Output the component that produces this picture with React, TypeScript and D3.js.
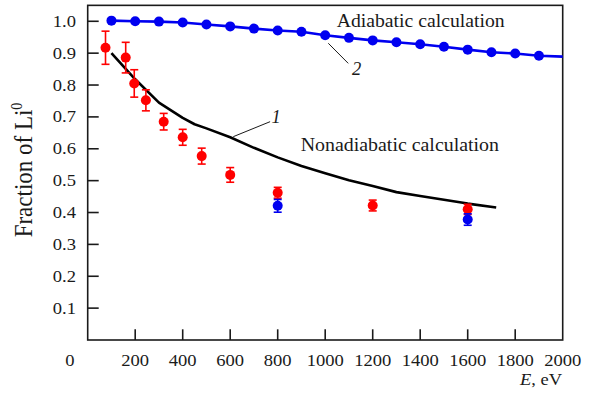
import React from "react";
import * as d3 from "d3";

// Adiabatic calculation (curve 2)
const adiabaticE = [100, 200, 300, 400, 500, 600, 700, 800, 900, 1000, 1100, 1200, 1300, 1400, 1500, 1600, 1700, 1800, 1900, 2000];
const adiabaticV = [1.002, 1.0, 0.999, 0.996, 0.99, 0.984, 0.977, 0.971, 0.967, 0.956, 0.948, 0.94, 0.934, 0.928, 0.92, 0.911, 0.903, 0.899, 0.892, 0.889];

// Nonadiabatic calculation (curve 1)
const nonadiabaticE = [100, 200, 300, 400, 450, 500, 600, 700, 800, 900, 1000, 1100, 1200, 1300, 1400, 1500, 1600, 1720];
const nonadiabaticV = [0.9, 0.818, 0.745, 0.697, 0.677, 0.664, 0.636, 0.603, 0.573, 0.546, 0.523, 0.501, 0.483, 0.464, 0.452, 0.44, 0.428, 0.416];

// Measured fractions (red)
const redE = [75, 160, 196, 245, 320, 400, 480, 600, 800, 1200, 1600];
const redV = [0.917, 0.886, 0.805, 0.752, 0.685, 0.636, 0.577, 0.518, 0.462, 0.422, 0.41];
const redErr = [0.052, 0.048, 0.043, 0.033, 0.026, 0.025, 0.025, 0.023, 0.017, 0.017, 0.016];

// Measured fractions (blue)
const blueE = [800, 1600];
const blueV = [0.421, 0.378];
const blueErr = [0.02, 0.018];

const xTicks = [0, 200, 400, 600, 800, 1000, 1200, 1400, 1600, 1800, 2000];
const yTicks = [0.1, 0.2, 0.3, 0.4, 0.5, 0.6, 0.7, 0.8, 0.9, 1.0];

const W = 590;
const H = 394;
const FONT = '"Liberation Serif", "Times New Roman", serif';
const INK = "#1a1a1a";
const RED = "#ff0000";
const BLUE = "#0000f0";

const x = d3.scaleLinear().domain([0, 2000]).range([87.7, 562.7]);
const y = d3.scaleLinear().domain([0, 1.05]).range([340, 5.35]);

function Label(props: {
  x: number; y: number; size: number; sx?: number; anchor?: string; italic?: boolean; children: React.ReactNode;
}) {
  const { sx = 1, anchor = "start", italic = false } = props;
  return (
    <text
      transform={`translate(${props.x},${props.y}) scale(${sx},1)`}
      fontFamily={FONT}
      fontSize={props.size}
      fontStyle={italic ? "italic" : "normal"}
      textAnchor={anchor}
      fill={INK}
    >
      {props.children}
    </text>
  );
}

function ErrorPoint({ e, v, err, color }: { e: number; v: number; err: number; color: string }) {
  const cx = x(e);
  const cap = 4;
  return (
    <g stroke={color} strokeWidth={1.6}>
      <line x1={cx} x2={cx} y1={y(v + err)} y2={y(v - err)} />
      <line x1={cx - cap} x2={cx + cap} y1={y(v + err)} y2={y(v + err)} />
      <line x1={cx - cap} x2={cx + cap} y1={y(v - err)} y2={y(v - err)} />
      <circle cx={cx} cy={y(v)} r={5} fill={color} stroke="none" />
    </g>
  );
}

export default function App() {
  const [x0, x1] = x.range();
  const [y0, y1] = y.range();

  const line = d3
    .line<[number, number]>()
    .x((d) => x(d[0]))
    .y((d) => y(d[1]));

  const adiabatic = adiabaticE.map((e, i) => [e, adiabaticV[i]] as [number, number]);
  const nonadiabatic = nonadiabaticE.map((e, i) => [e, nonadiabaticV[i]] as [number, number]);

  return (
    <svg
      width={W}
      height={H}
      viewBox={`0 0 ${W} ${H}`}
      style={{ position: "absolute", left: 0, top: 0, background: "#fff" }}
    >
      <rect width={W} height={H} fill="#fff" />

      {/* frame */}
      <rect x={x0} y={y1} width={x1 - x0} height={y0 - y1} fill="none" stroke={INK} strokeWidth={1.6} />

      {/* inward ticks */}
      {xTicks.filter((t) => t > 0 && t < 2000).map((t) => (
        <line key={`xt${t}`} x1={x(t)} x2={x(t)} y1={y0} y2={y0 - 10.7} stroke={INK} strokeWidth={1.6} />
      ))}
      {yTicks.map((t) => (
        <line key={`yt${t}`} x1={x0} x2={x0 + 11} y1={y(t)} y2={y(t)} stroke={INK} strokeWidth={1.6} />
      ))}

      {/* tick labels */}
      {xTicks.map((t) => (
        <Label key={`xl${t}`} x={t === 0 ? x(t) - 17.7 : x(t)} y={366} size={16.3} sx={1.14} anchor="middle">
          {String(t)}
        </Label>
      ))}
      {yTicks.map((t) => (
        <Label key={`yl${t}`} x={76} y={y(t) + 5.5} size={16.3} sx={1.14} anchor="end">
          {d3.format(".1f")(t)}
        </Label>
      ))}

      {/* axis titles */}
      <text
        transform="translate(32,170) scale(1.12,1) rotate(-90)"
        fontFamily={FONT}
        fontSize={23}
        textAnchor="middle"
        fill={INK}
      >
        Fraction of Li
        <tspan fontSize={14} dy={-9}>0</tspan>
      </text>
      <Label x={562} y={384.5} size={16.8} sx={1.1} anchor="end">
        <tspan fontStyle="italic">E</tspan>, eV
      </Label>

      {/* curve 1: nonadiabatic */}
      <path d={line(nonadiabatic) ?? ""} fill="none" stroke="#000" strokeWidth={2.6} strokeLinejoin="round" />

      {/* curve 2: adiabatic */}
      <path d={line(adiabatic) ?? ""} fill="none" stroke={BLUE} strokeWidth={2.6} />
      {adiabatic.filter((d) => d[0] < 2000).map((d) => (
        <circle key={`ad${d[0]}`} cx={x(d[0])} cy={y(d[1])} r={5} fill={BLUE} />
      ))}

      {/* measurements */}
      {redE.map((e, i) => (
        <ErrorPoint key={`r${e}`} e={e} v={redV[i]} err={redErr[i]} color={RED} />
      ))}
      {blueE.map((e, i) => (
        <ErrorPoint key={`b${e}`} e={e} v={blueV[i]} err={blueErr[i]} color={BLUE} />
      ))}

      {/* curve annotations */}
      <line x1={x(613)} y1={y(0.638)} x2={x(768)} y2={y(0.685)} stroke={INK} strokeWidth={1} />
      <Label x={276} y={122.7} size={18.5} italic anchor="middle">1</Label>
      <line x1={x(1013)} y1={y(0.931)} x2={x(1097)} y2={y(0.868)} stroke={INK} strokeWidth={1} />
      <Label x={356.7} y={75} size={18.5} italic anchor="middle">2</Label>

      <Label x={336.7} y={27.3} size={18.6} sx={1.06}>Adiabatic calculation</Label>
      <Label x={300.7} y={150.7} size={18.6} sx={1.07}>Nonadiabatic calculation</Label>
    </svg>
  );
}
